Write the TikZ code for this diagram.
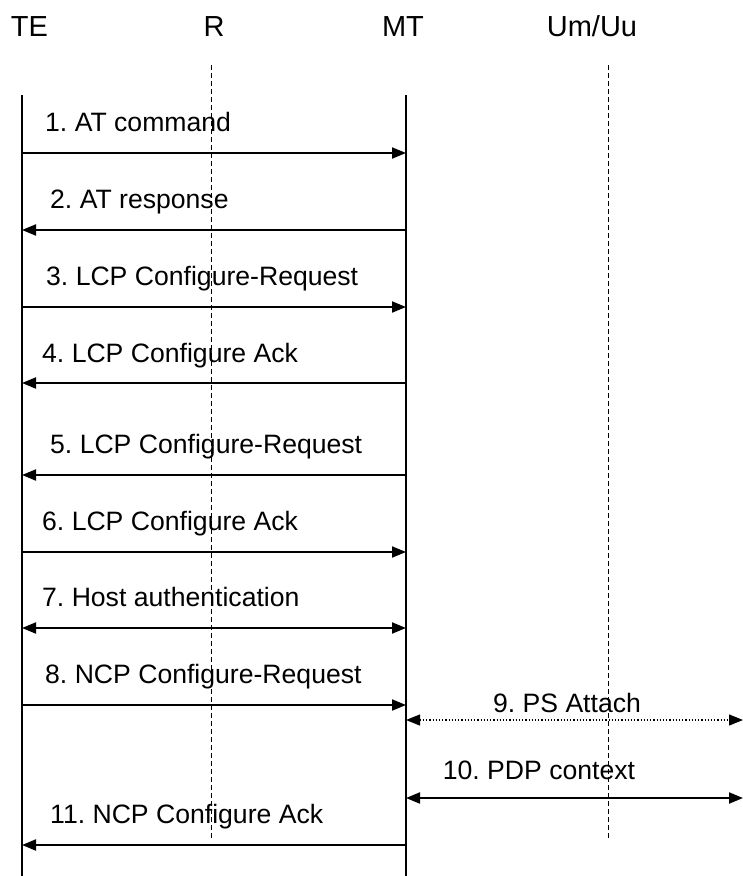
\documentclass[tikz,border=0pt]{standalone}
\usepackage{fontspec}
\setmainfont{Liberation Sans}
\usetikzlibrary{arrows.meta}
\frenchspacing
\begin{document}
\begin{tikzpicture}[x=1pt,y=-1pt,
  lifeline/.style={line width=2pt},
  iface/.style={line width=0.9pt,dash pattern=on 5pt off 3pt},
  msg/.style={line width=2pt,-{Triangle[length=14pt,width=11pt]}},
  msgboth/.style={line width=2pt,{Triangle[length=14pt,width=11pt]}-{Triangle[length=14pt,width=11pt]}},
  msgdot/.style={line width=1.2pt,dotted,{Triangle[length=14pt,width=11pt]}-{Triangle[length=14pt,width=11pt]}},
  head/.style={font=\fontsize{29}{33}\selectfont,inner sep=0pt,anchor=base},
  lbl/.style={font=\fontsize{26.6}{30}\selectfont,inner sep=0pt,anchor=base west},
  lblc/.style={font=\fontsize{26.6}{30}\selectfont,inner sep=0pt,anchor=base}]
\useasboundingbox (0,0) rectangle (743,876);

% entity headers
\node[head] (hTE) at (29.5,36) {TE};
\node[head] (hR)  at (214,36) {R};
\node[head] (hMT) at (403,36) {MT};
\node[head] (hU)  at (592,36) {Um/Uu};

% lifelines and interfaces
\coordinate (teT) at (22,95);   \coordinate (teB) at (22,876);
\coordinate (mtT) at (406,95);  \coordinate (mtB) at (406,876);
\coordinate (rT)  at (211,65);  \coordinate (rB)  at (211,838);
\coordinate (uT)  at (608,65);  \coordinate (uB)  at (608,838);
\coordinate (edge) at (743,0);
\draw[lifeline] (teT) -- (teB);
\draw[lifeline] (mtT) -- (mtB);
\draw[iface] (rT) -- (rB);
\draw[iface] (uT) -- (uB);

% message rows
\coordinate (m1) at (0,153);
\coordinate (m2) at (0,230);
\coordinate (m3) at (0,307);
\coordinate (m4) at (0,383);
\coordinate (m5) at (0,475);
\coordinate (m6) at (0,552);
\coordinate (m7) at (0,628);
\coordinate (m8) at (0,705);
\coordinate (m9) at (0,720);
\coordinate (m10) at (0,798);
\coordinate (m11) at (0,845);

\draw[msg] (teT |- m1) -- (mtT |- m1);
\node[lbl] (l1) at (45,131) {1. AT command};
\draw[msg] (mtT |- m2) -- (teT |- m2);
\node[lbl] (l2) at (50,208) {2. AT response};
\draw[msg] (teT |- m3) -- (mtT |- m3);
\node[lbl] (l3) at (46,285) {3. LCP Configure-Request};
\draw[msg] (mtT |- m4) -- (teT |- m4);
\node[lbl] (l4) at (42,362) {4. LCP Configure Ack};
\draw[msg] (mtT |- m5) -- (teT |- m5);
\node[lbl] (l5) at (50,453) {5. LCP Configure-Request};
\draw[msg] (teT |- m6) -- (mtT |- m6);
\node[lbl] (l6) at (42,530) {6. LCP Configure Ack};
\draw[msgboth] (teT |- m7) -- (mtT |- m7);
\node[lbl] (l7) at (42,606) {7. Host authentication};
\draw[msg] (teT |- m8) -- (mtT |- m8);
\node[lbl] (l8) at (45,683) {8. NCP Configure-Request};
\draw[msgdot] (mtT |- m9) -- (edge |- m9);
\node[lblc] (l9) at (567,712) {9. PS Attach};
\draw[msgboth] (mtT |- m10) -- (edge |- m10);
\node[lblc] (l10) at (539,779) {10. PDP context};
\draw[msg] (mtT |- m11) -- (teT |- m11);
\node[lbl] (l11) at (50,823) {11. NCP Configure Ack};
\end{tikzpicture}
\end{document}
